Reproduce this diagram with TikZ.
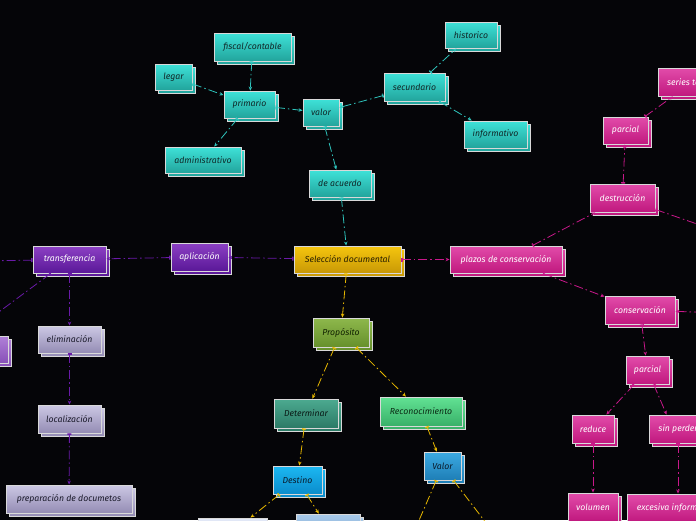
\documentclass[tikz,border=0pt]{standalone}
\usepackage{fontspec}
\setmainfont{Fira Sans}
\usetikzlibrary{arrows.meta}
\definecolor{bg}{HTML}{050508}
\definecolor{lteal}{HTML}{2EC4BC}
\definecolor{lpurp}{HTML}{6A1AA8}
\definecolor{lgold}{HTML}{E8B800}
\definecolor{lpink}{HTML}{C8188A}
\definecolor{tealT}{HTML}{3EE2D8}\definecolor{tealB}{HTML}{22A49C}\definecolor{tealX}{HTML}{102828}
\definecolor{goldT}{HTML}{F6C60E}\definecolor{goldB}{HTML}{C89806}\definecolor{goldX}{HTML}{2A2000}
\definecolor{purpT}{HTML}{8C40C4}\definecolor{purpB}{HTML}{5A1898}
\definecolor{lpurpT}{HTML}{B080D8}\definecolor{lpurpB}{HTML}{8850B8}
\definecolor{lavT}{HTML}{CCC8E4}\definecolor{lavB}{HTML}{948CB4}\definecolor{darkX}{HTML}{1A1A2A}
\definecolor{oliveT}{HTML}{8EB84C}\definecolor{oliveB}{HTML}{66902C}\definecolor{oliveX}{HTML}{102000}
\definecolor{dtealT}{HTML}{4CAA90}\definecolor{dtealB}{HTML}{2C7A66}\definecolor{dtealX}{HTML}{0A1A16}
\definecolor{greenT}{HTML}{62E294}\definecolor{greenB}{HTML}{38B068}\definecolor{greenX}{HTML}{0A2A14}
\definecolor{blueT}{HTML}{3CAAE2}\definecolor{blueB}{HTML}{1E7EB6}\definecolor{blueX}{HTML}{0A1A2A}
\definecolor{skyT}{HTML}{1CB8F2}\definecolor{skyB}{HTML}{0A8CCC}
\definecolor{whT}{HTML}{E4EAF8}\definecolor{whB}{HTML}{B8C4E0}
\definecolor{stT}{HTML}{A8CAEA}\definecolor{stB}{HTML}{7CA4CE}
\definecolor{pinkT}{HTML}{E24CAA}\definecolor{pinkB}{HTML}{C0187E}
\tikzset{
  bxs/.style={draw=white!85!black, line width=0.9pt, inner sep=0pt,
    font=\fontsize{8.7}{10}\selectfont\itshape},
  cteal/.style={top color=tealT, bottom color=tealB, text=tealX},
  cgold/.style={top color=goldT, bottom color=goldB, text=goldX},
  cpurp/.style={top color=purpT, bottom color=purpB, text=white},
  clpurp/.style={top color=lpurpT, bottom color=lpurpB, text=white},
  clav/.style={top color=lavT, bottom color=lavB, text=darkX},
  colive/.style={top color=oliveT, bottom color=oliveB, text=oliveX},
  cdteal/.style={top color=dtealT, bottom color=dtealB, text=dtealX},
  cgreen/.style={top color=greenT, bottom color=greenB, text=greenX},
  cblue/.style={top color=blueT, bottom color=blueB, text=blueX},
  csky/.style={top color=skyT, bottom color=skyB, text=blueX},
  cwhite/.style={top color=whT, bottom color=whB, text=darkX},
  csteel/.style={top color=stT, bottom color=stB, text=darkX},
  cpink/.style={top color=pinkT, bottom color=pinkB, text=white},
  con/.style={line width=0.8pt, dash pattern=on 9pt off 3pt on 1.5pt off 3pt,
    {Bar[width=4pt,line width=0.7pt] Bar[width=4pt,line width=0.7pt]}-{Stealth[length=4pt,width=3.5pt]}},
  ct/.style={con, draw=lteal},
  cp/.style={con, draw=lpurp},
  cg/.style={con, draw=lgold},
  ck/.style={con, draw=lpink},
}
\newcommand\bx[7]{%
  \node[bxs,#6,minimum width=#4pt,minimum height=#5pt] at (#2+3,#3+3) {};
  \node[bxs,#6,minimum width=#4pt,minimum height=#5pt] (#1) at (#2,#3) {#7};
}
\begin{document}
\begin{tikzpicture}[x=1pt,y=-1pt]
\useasboundingbox (0,0) rectangle (696,520);
\fill[bg] (0,0) rectangle (696,520);
\clip (0,0) rectangle (696,520);

% off-canvas coordinates
\coordinate (offL) at (-20,261);
\coordinate (offLB) at (-20,326);
\coordinate (offV1) at (414,532);
\coordinate (offV2) at (493,532);
\coordinate (offD) at (720,232);
\coordinate (offC) at (720,313);

% nodes
\bx{fisc}{252.5}{47}{77}{28}{cteal}{fiscal/contable}
\bx{legar}{173.5}{77}{37}{26}{cteal}{legar}
\bx{prim}{249.5}{104.5}{51}{27}{cteal}{primario}
\bx{valor}{321}{112.5}{36}{27}{cteal}{valor}
\bx{hist}{471}{35}{52}{26}{cteal}{historico}
\bx{secu}{414.5}{87}{61}{28}{cteal}{secundario}
\bx{info}{495.5}{134.5}{63}{27}{cteal}{informativo}
\bx{admin}{203}{160}{76}{26}{cteal}{administrativo}
\bx{deac}{340}{183.5}{62}{27}{cteal}{de acuerdo}
\bx{sel}{347.5}{259.5}{107}{27}{cgold}{Selección documental}
\bx{apli}{199.5}{257}{57}{28}{cpurp}{aplicación}
\bx{trans}{69.5}{259.5}{73}{27}{cpurp}{transferencia}
\bx{elim}{69.5}{339.5}{63}{27}{clav}{eliminación}
\bx{loca}{69.5}{419}{63}{28}{clav}{localización}
\bx{prep}{69}{499}{126}{28}{clav}{preparación de documetos}
\bx{lpart}{-11}{349.5}{38}{27}{clpurp}{}
\bx{prop}{341}{332.5}{56}{29}{colive}{Propósito}
\bx{det}{306}{413.5}{64}{29}{cdteal}{Determinar}
\bx{reco}{421}{411.5}{82}{29}{cgreen}{Reconocimiento}
\bx{val2}{442.5}{466}{37}{28}{cblue}{Valor}
\bx{dest}{297.5}{480}{49}{28}{csky}{Destino}
\bx{botL}{232.5}{532}{69}{28}{cwhite}{}
\bx{botR}{328}{528}{64}{28}{csteel}{}
\bx{plaz}{506}{259.5}{112}{27}{cpink}{plazos de conservación}
\bx{destr}{622.5}{198}{65}{28}{cpink}{destrucción}
\bx{parc1}{625.5}{130.5}{45}{27}{cpink}{parcial}
\bx{series}{693}{82}{70}{28}{cpink}{series totales}
\bx{cons}{640}{310}{70}{28}{cpink}{conservación}
\bx{parc2}{647.5}{370}{43}{28}{cpink}{parcial}
\bx{red}{593}{429}{42}{28}{cpink}{reduce}
\bx{sinp}{703}{429}{108}{28}{cpink}{sin perder información}
\bx{vol}{593}{507}{50}{28}{cpink}{volumen}
\bx{exc}{678}{508}{102}{28}{cpink}{excesiva información}

% teal connectors
\draw[ct] (fisc) -- (prim);
\draw[ct] (legar) -- (prim);
\draw[ct] (prim) -- (admin);
\draw[ct] (prim) -- (valor);
\draw[ct] (secu) -- (valor);
\draw[ct] (secu) -- (hist);
\draw[ct] (secu) -- (info);
\draw[ct] (valor) -- (deac);
\draw[ct] (deac) -- (sel);
% gold connectors
\draw[cg] (sel) -- (prop);
\draw[cg] (prop) -- (det);
\draw[cg] (prop) -- (reco);
\draw[cg] (det) -- (dest);
\draw[cg] (reco) -- (val2);
\draw[cg] (dest) -- (botL);
\draw[cg] (dest) -- (botR);
\draw[cg] (val2) -- (offV1);
\draw[cg] (val2) -- (offV2);
% purple connectors
\draw[cp] (sel) -- (apli);
\draw[cp] (apli) -- (trans);
\draw[cp] (trans) -- (offL);
\draw[cp] (trans) -- (offLB);
\draw[cp] (trans) -- (elim);
\draw[cp] (elim) -- (loca);
\draw[cp] (loca) -- (prep);
% pink connectors
\draw[ck] (sel) -- (plaz);
\draw[ck] (plaz) -- (destr);
\draw[ck] (plaz) -- (cons);
\draw[ck] (destr) -- (parc1);
\draw[ck] (parc1) -- (series);
\draw[ck] (destr) -- (offD);
\draw[ck] (offC) -- (cons);
\draw[ck] (cons) -- (parc2);
\draw[ck] (parc2) -- (red);
\draw[ck] (parc2) -- ([xshift=18pt]sinp.north west);
\draw[ck] (red) -- (vol);
\draw[ck] (sinp.south -| exc.north) -- (exc);
\end{tikzpicture}
\end{document}
